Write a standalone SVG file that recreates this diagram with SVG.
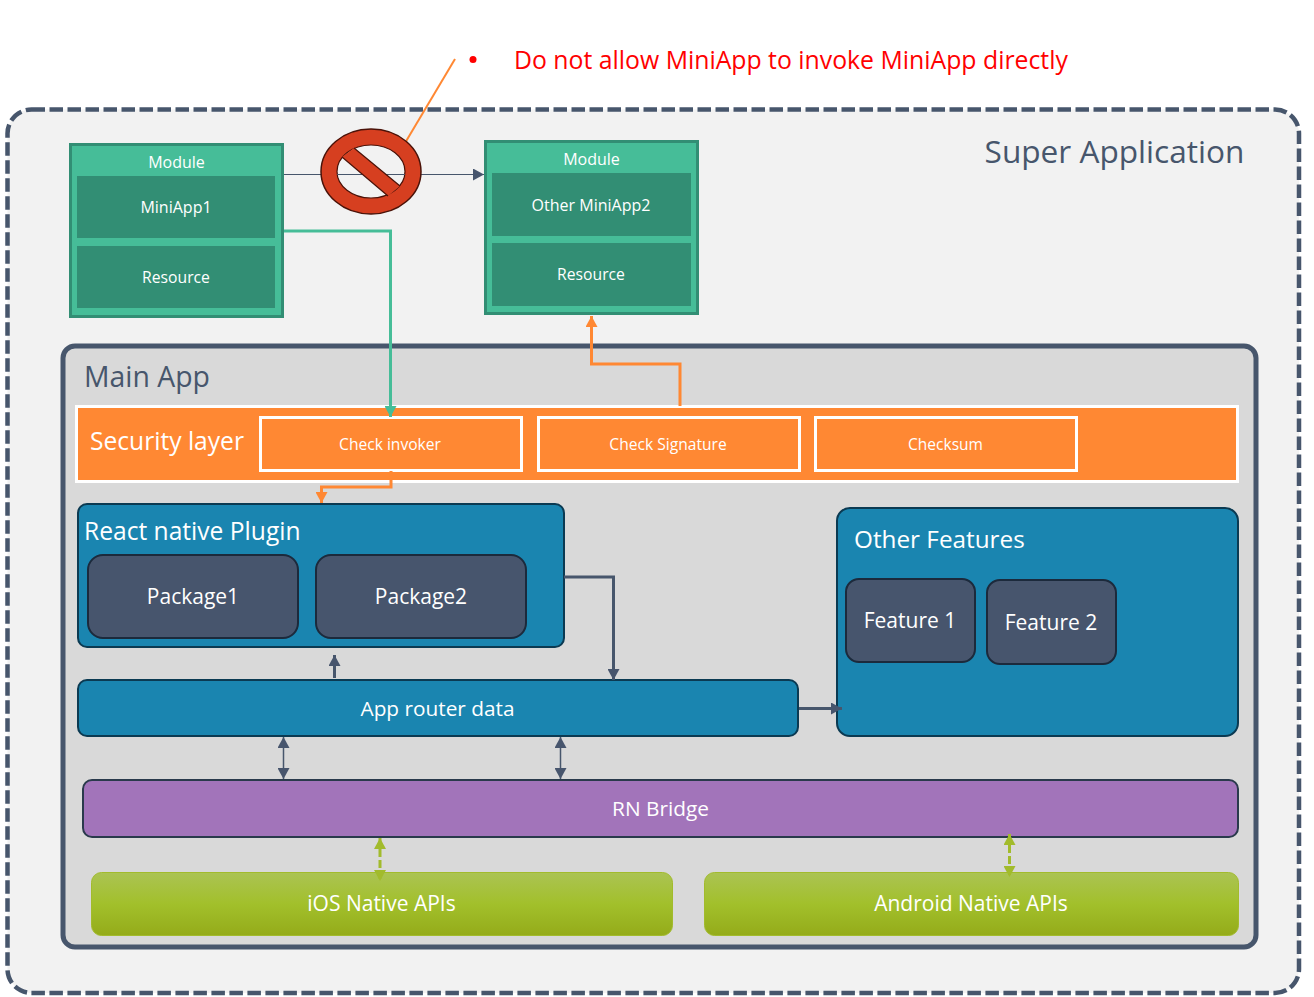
<svg xmlns="http://www.w3.org/2000/svg" width="1314" height="997" viewBox="0 0 1314 997">
<style>
text{font-family:"Open Sans","Noto Sans","Liberation Sans",sans-serif;fill:#fff;text-anchor:middle}
.l{text-anchor:start}
.mod{fill:#46bd98;stroke:#328e74;stroke-width:3}
.in{fill:#328e74}
.blue{fill:#1a85b0;stroke:#0b3a52;stroke-width:2}
.pk{fill:#47556d;stroke:#1c2a3c;stroke-width:2}
.sec{fill:#ff8833;stroke:#fff;stroke-width:3}
.c{fill:none}
</style>
<defs>
<linearGradient id="g" x1="0" y1="0" x2="0" y2="1"><stop offset="0" stop-color="#abc353"/><stop offset=".5" stop-color="#a2c02b"/><stop offset="1" stop-color="#94ab1a"/></linearGradient>
<marker id="ad" markerUnits="userSpaceOnUse" markerWidth="12" markerHeight="12" refX="11" refY="6" orient="auto-start-reverse"><path d="M0 0L11 6L0 12Z" fill="#47556d"/></marker>
<marker id="ao" markerUnits="userSpaceOnUse" markerWidth="12" markerHeight="12" refX="11" refY="6" orient="auto"><path d="M0 0L11 6L0 12Z" fill="#ff8833"/></marker>
<marker id="at" markerUnits="userSpaceOnUse" markerWidth="12" markerHeight="12" refX="11" refY="6" orient="auto"><path d="M0 0L11 6L0 12Z" fill="#46bd98"/></marker>
<marker id="ag" markerUnits="userSpaceOnUse" markerWidth="12" markerHeight="12" refX="11" refY="6" orient="auto-start-reverse"><path d="M0 0L11 6L0 12Z" fill="#a2bb2c"/></marker>
</defs>
<rect width="1314" height="997" fill="#fff"/>
<g id="super-app"><rect x="7.500" y="109.500" width="1291.500" height="883.500" rx="24" fill="#f2f2f2" stroke="#47566c" stroke-width="4.500" stroke-dasharray="13.500 4.500"/>
<text x="1114.500" y="163" font-size="31.600" style="fill:#47566c">Super Application</text></g>
<g id="main-app"><rect x="63" y="346" width="1193" height="601" rx="12" fill="#d9d9d9" stroke="#47566c" stroke-width="5"/>
<text class="l" x="84" y="387" font-size="28.400" style="fill:#47566c">Main App</text></g>
<g id="note"><circle cx="473" cy="59.500" r="3.500" fill="#f00"/><text class="l" x="514" y="69" font-size="24.800" style="fill:#f00">Do not allow MiniApp to invoke MiniApp directly</text></g>
<g id="module1"><rect class="mod" x="70.500" y="144.500" width="212" height="172"/><text x="176.500" y="168" font-size="16">Module</text>
<rect class="in" x="77" y="176" width="198" height="62"/><text x="176" y="213" font-size="16">MiniApp1</text>
<rect class="in" x="77" y="246" width="198" height="62"/><text x="176" y="283" font-size="15.700">Resource</text></g>
<g id="module2"><rect class="mod" x="485.500" y="141.500" width="212" height="172"/><text x="591.500" y="165" font-size="16">Module</text>
<rect class="in" x="492" y="173" width="199" height="63"/><text x="591" y="211" font-size="16">Other MiniApp2</text>
<rect class="in" x="492" y="243" width="199" height="63"/><text x="591" y="280" font-size="15.700">Resource</text></g>
<g id="security-layer"><rect class="sec" x="76.500" y="406.500" width="1161" height="75"/><text class="l" x="90" y="450" font-size="24.600">Security layer</text></g>
<g id="check-invoker"><rect class="sec" x="260.500" y="417.500" width="261" height="53"/><text x="390" y="450" font-size="15.600">Check invoker</text></g>
<g id="check-signature"><rect class="sec" x="538.500" y="417.500" width="261" height="53"/><text x="668" y="450" font-size="15.600">Check Signature</text></g>
<g id="checksum"><rect class="sec" x="815.500" y="417.500" width="261" height="53"/><text x="945.500" y="450" font-size="15.500">Checksum</text></g>
<g id="rn-plugin"><rect class="blue" x="78" y="504" width="486" height="143" rx="9"/><text class="l" x="84" y="540" font-size="24.600">React native Plugin</text></g>
<g id="package1"><rect class="pk" x="88" y="555" width="210" height="83" rx="15"/><text x="193" y="604" font-size="21">Package1</text></g>
<g id="package2"><rect class="pk" x="316" y="555" width="210" height="83" rx="15"/><text x="421" y="604" font-size="21">Package2</text></g>
<g id="other-features"><rect class="blue" x="837" y="508" width="401" height="228" rx="13"/><text class="l" x="854" y="548" font-size="24.300">Other Features</text></g>
<g id="feature1"><rect class="pk" x="846" y="579" width="129" height="83" rx="13"/><text x="910" y="628" font-size="21">Feature 1</text></g>
<g id="feature2"><rect class="pk" x="987" y="580" width="129" height="84" rx="13"/><text x="1051" y="630" font-size="21">Feature 2</text></g>
<g id="app-router"><rect class="blue" x="78" y="680" width="720" height="56" rx="9"/><text x="437.500" y="716" font-size="20.800">App router data</text></g>
<g id="rn-bridge"><rect x="83" y="780" width="1155" height="57" rx="9" fill="#a274ba" stroke="#2a3a4c" stroke-width="2"/><text x="660.500" y="816" font-size="20.800">RN Bridge</text></g>
<g id="ios"><rect x="91.500" y="872.500" width="581" height="63" rx="10" fill="url(#g)" stroke="#a2bb2c"/><text x="381.500" y="911" font-size="21">iOS Native APIs</text></g>
<g id="android"><rect x="704.500" y="872.500" width="534" height="63" rx="10" fill="url(#g)" stroke="#a2bb2c"/><text x="971" y="911" font-size="21">Android Native APIs</text></g>
<g id="connectors" class="c">
<path d="M455 59L405 143" stroke="#ff8833" stroke-width="2"/>
<path d="M284 174.500H484" stroke="#47566c" stroke-width="1" marker-end="url(#ad)"/>
<path d="M284 231H390.500V417" stroke="#46bd98" stroke-width="3" marker-end="url(#at)"/>
<path d="M680 406V364H591.500V316" stroke="#ff8833" stroke-width="3" marker-end="url(#ao)"/>
<path d="M391 471V487H321.500V503" stroke="#ff8833" stroke-width="3" marker-end="url(#ao)"/>
<path d="M564 577H613.500V680" stroke="#47566c" stroke-width="3" marker-end="url(#ad)"/>
<path d="M334.500 678V655" stroke="#47566c" stroke-width="3" marker-end="url(#ad)"/>
<path d="M799 708.500H842" stroke="#47566c" stroke-width="3" marker-end="url(#ad)"/>
<path d="M283.500 737V779" stroke="#47566c" stroke-width="1.500" marker-start="url(#ad)" marker-end="url(#ad)"/>
<path d="M560.500 737V779" stroke="#47566c" stroke-width="1.500" marker-start="url(#ad)" marker-end="url(#ad)"/>
<path d="M380 838V881" stroke="#a2bb2c" stroke-width="3" stroke-dasharray="8 3" marker-start="url(#ag)" marker-end="url(#ag)"/>
<path d="M1009.500 834V877" stroke="#a2bb2c" stroke-width="3" stroke-dasharray="8 3" marker-start="url(#ag)" marker-end="url(#ag)"/>
</g>
<g id="no-sign"><ellipse cx="371" cy="171.500" rx="50" ry="42.500" fill="#d63f20" stroke="#4a1208" stroke-width="1.500"/>
<ellipse cx="371" cy="171.500" rx="34" ry="26.500" fill="#f2f2f2" stroke="#4a1208" stroke-width="1.200"/>
<path d="M337 174.500H405" stroke="#47566c" stroke-width="1"/>
<path d="M342 157L354 148L400 186L388 196Z" fill="#d63f20"/>
<path d="M342 157L388 196M354 148L400 186" stroke="#4a1208" stroke-width="1.200"/></g>
</svg>
